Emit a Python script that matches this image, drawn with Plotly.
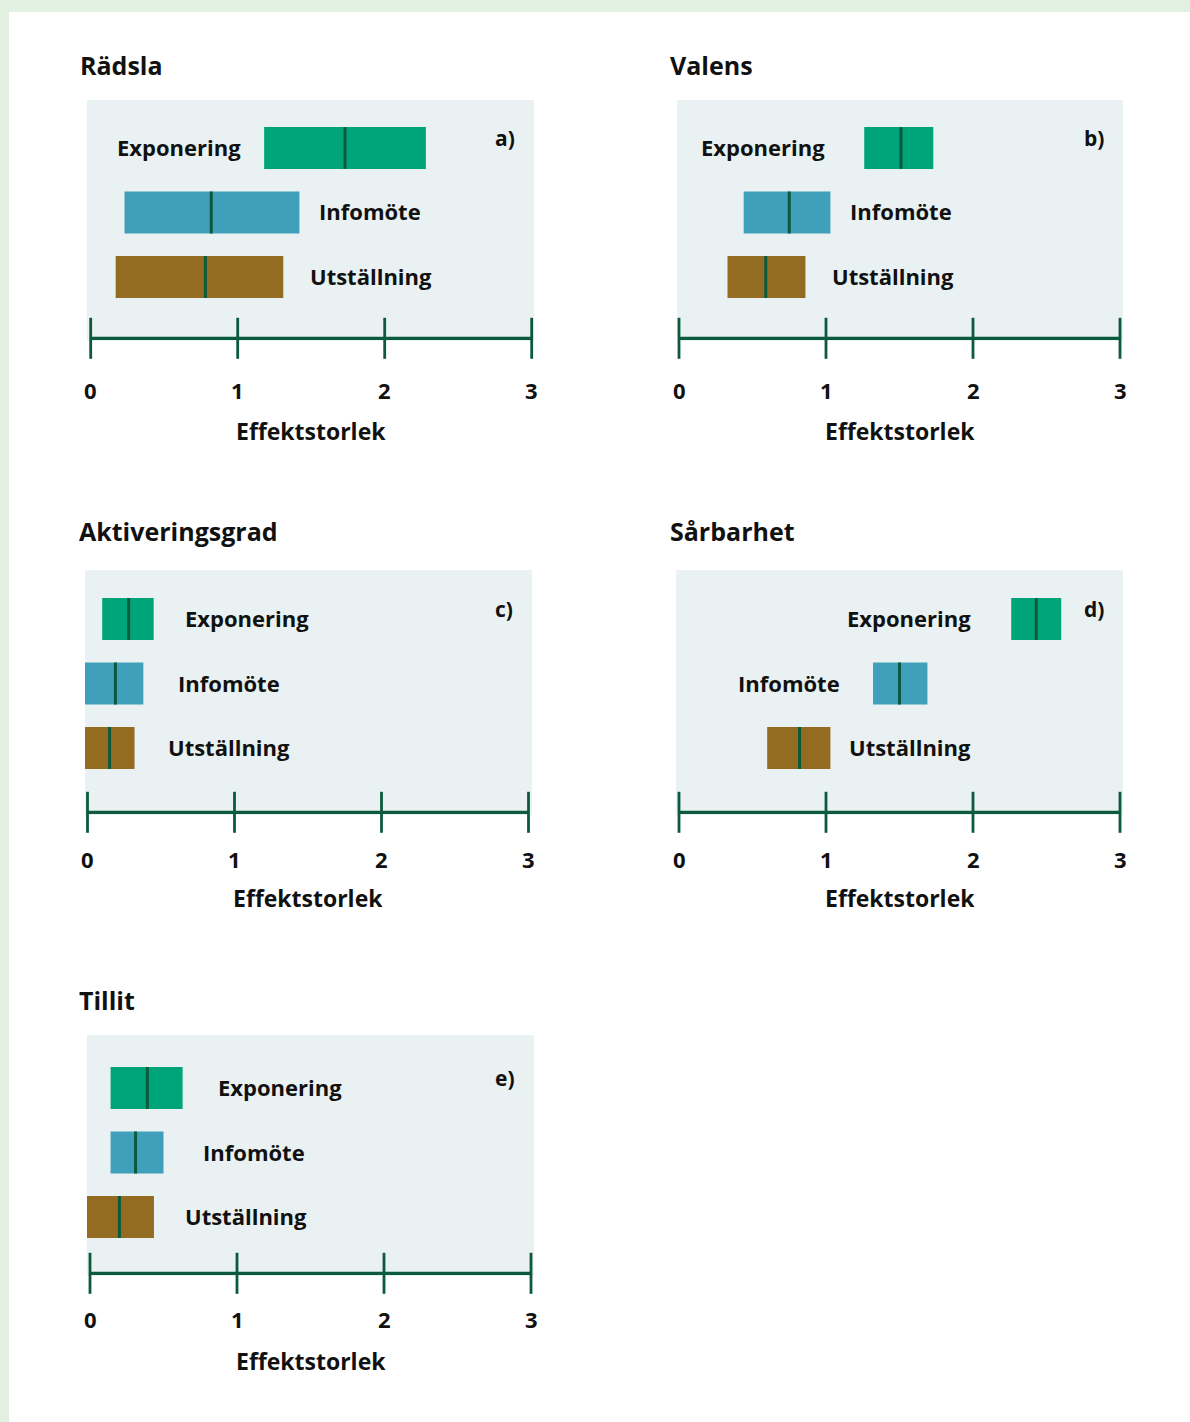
import plotly.graph_objects as go

# ---------------- DATA ----------------
panel_titles = ["Rädsla", "Valens", "Aktiveringsgrad", "Sårbarhet", "Tillit"]
panel_letters = ["a)", "b)", "c)", "d)", "e)"]
groups = ["Exponering", "Infomöte", "Utställning"]

# effect size intervals (low, median, high) per panel, order: Exponering, Infomöte, Utställning
low_a = [1.18, 0.23, 0.17]
med_a = [1.73, 0.82, 0.78]
high_a = [2.28, 1.42, 1.31]

low_b = [1.26, 0.44, 0.33]
med_b = [1.51, 0.75, 0.59]
high_b = [1.73, 1.03, 0.86]

low_c = [0.10, -0.05, -0.05]
med_c = [0.28, 0.19, 0.15]
high_c = [0.45, 0.38, 0.32]

low_d = [2.26, 1.32, 0.60]
med_d = [2.43, 1.50, 0.82]
high_d = [2.60, 1.69, 1.03]

low_e = [0.14, 0.14, -0.05]
med_e = [0.39, 0.31, 0.20]
high_e = [0.63, 0.50, 0.435]

x_ticks = [0, 1, 2, 3]
x_title = "Effektstorlek"

lows = [low_a, low_b, low_c, low_d, low_e]
meds = [med_a, med_b, med_c, med_d, med_e]
highs = [high_a, high_b, high_c, high_d, high_e]

# ---------------- STYLE / LAYOUT ----------------
W, H = 1190, 1422
FONT = "Open Sans"
TXT = "#111111"
bar_colors = ["#00A479", "#40A0BB", "#936C22"]
dark_green = "#0B5A3D"
panel_bg = "#E9F1F2"
border_bg = "#E2F0E2"

# label side (+1 right of bar, -1 left of bar) and gap in px
label_side = [[-1, 1, 1], [-1, 1, 1], [1, 1, 1], [-1, -1, 1], [1, 1, 1]]
label_gap = [[21, 18, 25], [37, 18, 25], [29, 33, 31], [38, 31, 17], [33, 37, 29]]

# pixel geometry per panel
geo = [
    dict(l=87, r=534, t0=90.7, top=100, bot=341, axis=338.3, cexp=148, tx=78, ty=65, tl=52, at=93),
    dict(l=677, r=1123, t0=679, top=100, bot=341, axis=338.3, cexp=148, tx=668, ty=65, tl=52, at=93),
    dict(l=85, r=532, t0=87.5, top=570, bot=815, axis=812.3, cexp=619, tx=77, ty=531, tl=47, at=86),
    dict(l=676, r=1123, t0=679, top=570, bot=815, axis=812.3, cexp=619, tx=668, ty=531, tl=47, at=86),
    dict(l=87, r=534, t0=90, top=1035, bot=1276, axis=1273.3, cexp=1088, tx=77, ty=1000, tl=46, at=88),
]
PX_PER_UNIT = 147.0
ROW_SP = 64.5
BAR_H = 42
TICK_LEN = 41
LINE_NS_FACTOR = 1.4  # plotly line-ns symbol length = 1.4 * size

fig = go.Figure()
annotations = []
shapes = [
    dict(type="rect", xref="paper", yref="paper", x0=9 / W, x1=1, y0=0, y1=1 - 12 / H,
         fillcolor="white", line=dict(width=0), layer="below"),
]

for i in range(5):
    g = geo[i]
    ax = "" if i == 0 else str(i + 1)
    xa, ya = "x" + ax, "y" + ax
    yvals = [2, 1, 0]
    c_utst = g["cexp"] + 2 * ROW_SP
    y_hi = (c_utst - g["top"]) / ROW_SP
    y_lo = -(g["bot"] - c_utst) / ROW_SP
    y_axis = -(g["axis"] - c_utst) / ROW_SP
    xr = [(g["l"] - g["t0"]) / PX_PER_UNIT, (g["r"] - g["t0"]) / PX_PER_UNIT]

    # bars
    fig.add_trace(go.Bar(
        x=[h - l for l, h in zip(lows[i], highs[i])], base=lows[i], y=yvals,
        orientation="h", width=BAR_H / ROW_SP,
        marker=dict(color=bar_colors, line=dict(width=0)),
        xaxis=xa, yaxis=ya, showlegend=False, hoverinfo="skip"))
    # medians
    fig.add_trace(go.Scatter(
        x=meds[i], y=yvals, mode="markers",
        marker=dict(symbol="line-ns", size=BAR_H / LINE_NS_FACTOR,
                    line=dict(width=3, color=dark_green)),
        xaxis=xa, yaxis=ya, showlegend=False, hoverinfo="skip"))
    # axis line
    fig.add_trace(go.Scatter(
        x=[x_ticks[0], x_ticks[-1]], y=[y_axis, y_axis], mode="lines",
        line=dict(color=dark_green, width=3.3),
        xaxis=xa, yaxis=ya, showlegend=False, hoverinfo="skip"))
    # axis ticks
    fig.add_trace(go.Scatter(
        x=x_ticks, y=[y_axis] * len(x_ticks), mode="markers", cliponaxis=False,
        marker=dict(symbol="line-ns", size=TICK_LEN / LINE_NS_FACTOR,
                    line=dict(width=2.8, color=dark_green)),
        xaxis=xa, yaxis=ya, showlegend=False, hoverinfo="skip"))

    # labels
    for j, grp in enumerate(groups):
        side = label_side[i][j]
        annotations.append(dict(
            x=highs[i][j] if side > 0 else lows[i][j], y=yvals[j], xref=xa, yref=ya,
            text=grp, showarrow=False, xanchor="left" if side > 0 else "right",
            xshift=side * label_gap[i][j], yshift=1,
            font=dict(family=FONT, size=22, color=TXT, weight=700)))
    # panel letter
    annotations.append(dict(
        x=1, y=2, xref=xa + " domain", yref=ya, text=panel_letters[i], showarrow=False,
        xanchor="right", xshift=-17, yshift=10,
        font=dict(family=FONT, size=21, color=TXT, weight=700)))
    # panel title
    annotations.append(dict(
        x=g["tx"] / W, y=1 - g["ty"] / H, xref="paper", yref="paper", text=panel_titles[i],
        showarrow=False, xanchor="left", yanchor="middle",
        font=dict(family=FONT, size=25, color=TXT, weight=700)))
    # x tick labels and axis title under the axis line
    for t in x_ticks:
        annotations.append(dict(
            x=t, y=1 - (g["axis"] + g["tl"]) / H, xref=xa, yref="paper", text=str(t),
            showarrow=False, xanchor="center", yanchor="middle",
            font=dict(family=FONT, size=22, color=TXT, weight=700)))
    annotations.append(dict(
        x=1.5, y=1 - (g["axis"] + g["at"]) / H, xref=xa, yref="paper", text=x_title,
        showarrow=False, xanchor="center", yanchor="middle",
        font=dict(family=FONT, size=23, color=TXT, weight=700)))

    fig.update_layout(**{
        "xaxis" + ax: dict(domain=[g["l"] / W, g["r"] / W], range=xr, anchor=ya,
                           showgrid=False, zeroline=False, showline=False,
                           showticklabels=False, ticks="", fixedrange=True),
        "yaxis" + ax: dict(domain=[1 - g["bot"] / H, 1 - g["top"] / H], range=[y_lo, y_hi],
                           anchor=xa, showgrid=False, zeroline=False, showline=False,
                           showticklabels=False, ticks="", fixedrange=True),
    })
    shapes.append(dict(type="rect", xref=xa + " domain", yref=ya + " domain",
                       x0=0, x1=1, y0=0, y1=1, fillcolor=panel_bg,
                       line=dict(width=0), layer="below"))

fig.update_layout(
    width=W, height=H,
    margin=dict(l=0, r=0, t=0, b=0),
    paper_bgcolor=border_bg,
    plot_bgcolor="rgba(0,0,0,0)",
    font=dict(family=FONT),
    barmode="overlay",
    annotations=annotations,
    shapes=shapes,
    showlegend=False,
)

fig.write_html("out.html")
